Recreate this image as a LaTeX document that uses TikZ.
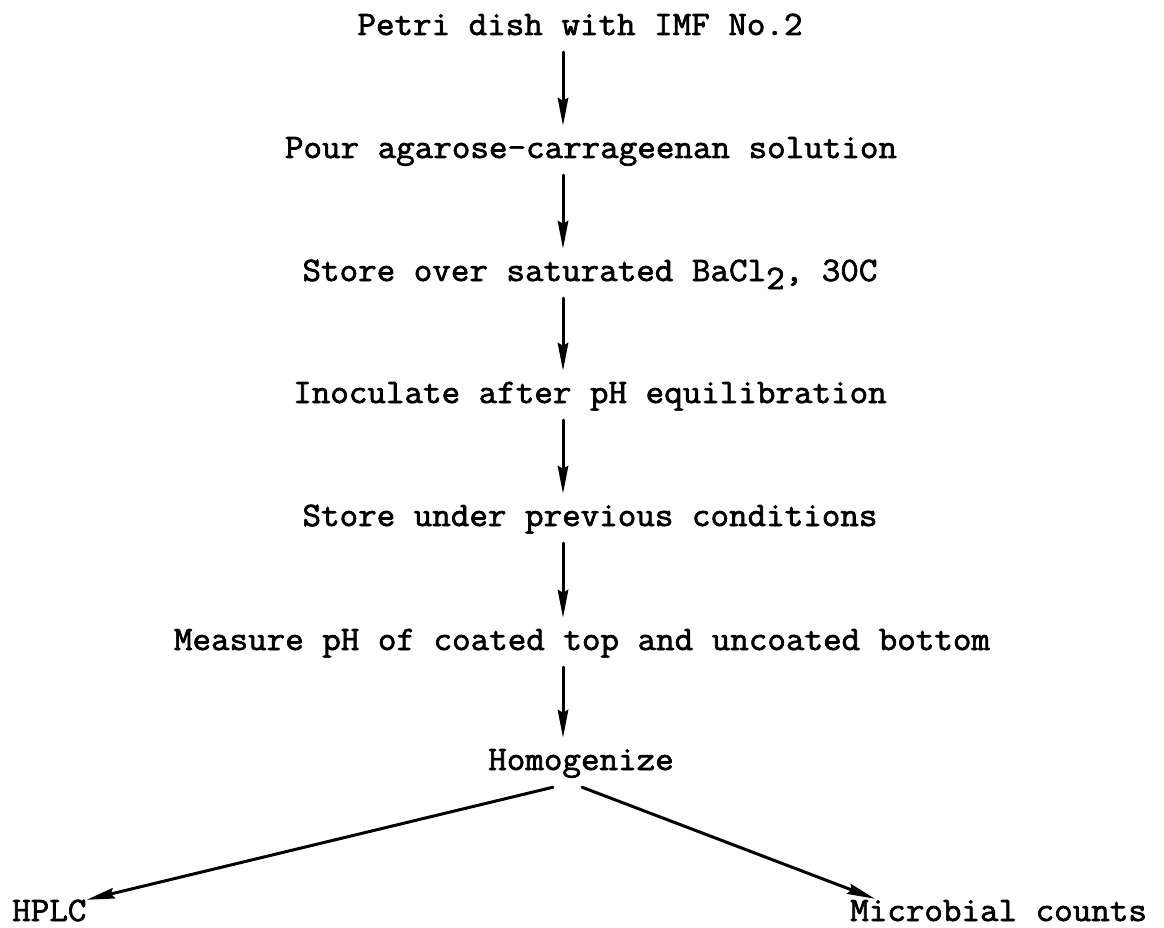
\documentclass[tikz,border=0pt]{standalone}
\usepackage{fontspec}
\usetikzlibrary{arrows.meta}
% typewriter face for all labels
\newfontfamily\tw[FakeBold=2,FakeStretch=1.05]{Latin Modern Mono}
\newcommand{\lowtwo}{\raisebox{-8pt}{2}}
\begin{document}
\begin{tikzpicture}[x=1pt,y=-1pt,
  lbl/.style={font=\tw\fontsize{34.3}{40}\selectfont, text height=22pt,
              text depth=7pt, inner xsep=0pt, inner ysep=10pt, anchor=base},
  endlbl/.style={lbl, anchor=base west, text depth=0pt, inner ysep=2pt},
  flow/.style={line width=3pt, line cap=round,
               -{Stealth[length=28pt,width=10.5pt,inset=3pt]}}]
\useasboundingbox[fill=white] (0,0) rectangle (1164,928);

% vertical sequence of steps
\node[lbl] (s1) at (580,35)  {Petri dish with IMF No.2};
\node[lbl] (s2) at (591,158) {Pour agarose-carrageenan solution};
\node[lbl] (s3) at (590,281) {Store over saturated BaCl\lowtwo, 30C};
\node[lbl] (s4) at (590,403) {Inoculate after pH equilibration};
\node[lbl] (s5) at (590,526) {Store under previous conditions};
\node[lbl] (s6) at (582,650) {Measure pH of coated top and uncoated bottom};
\node[lbl] (s7) at (581,770) {Homogenize};
\node[endlbl] (hplc) at (12,921)  {HPLC};
\node[endlbl] (mc)   at (850,921) {Microbial counts};

% line on which the vertical arrows run
\coordinate (ax) at (563,0);

\draw[flow] (s1.south -| ax) -- (s2.north -| ax);
\draw[flow] (s2.south -| ax) -- (s3.north -| ax);
\draw[flow] (s3.south -| ax) -- (s4.north -| ax);
\draw[flow] (s4.south -| ax) -- (s5.north -| ax);
\draw[flow] (s5.south -| ax) -- (s6.north -| ax);
\draw[flow] (s6.south -| ax) -- (s7.north -| ax);

% the two branches
\draw[flow] ([xshift=-28pt]s7.south) -- ([yshift=-3pt]hplc.north east);
\draw[flow] ([xshift=1pt]s7.south) -- ([xshift=25pt,yshift=-2pt]mc.north west);
\end{tikzpicture}
\end{document}
